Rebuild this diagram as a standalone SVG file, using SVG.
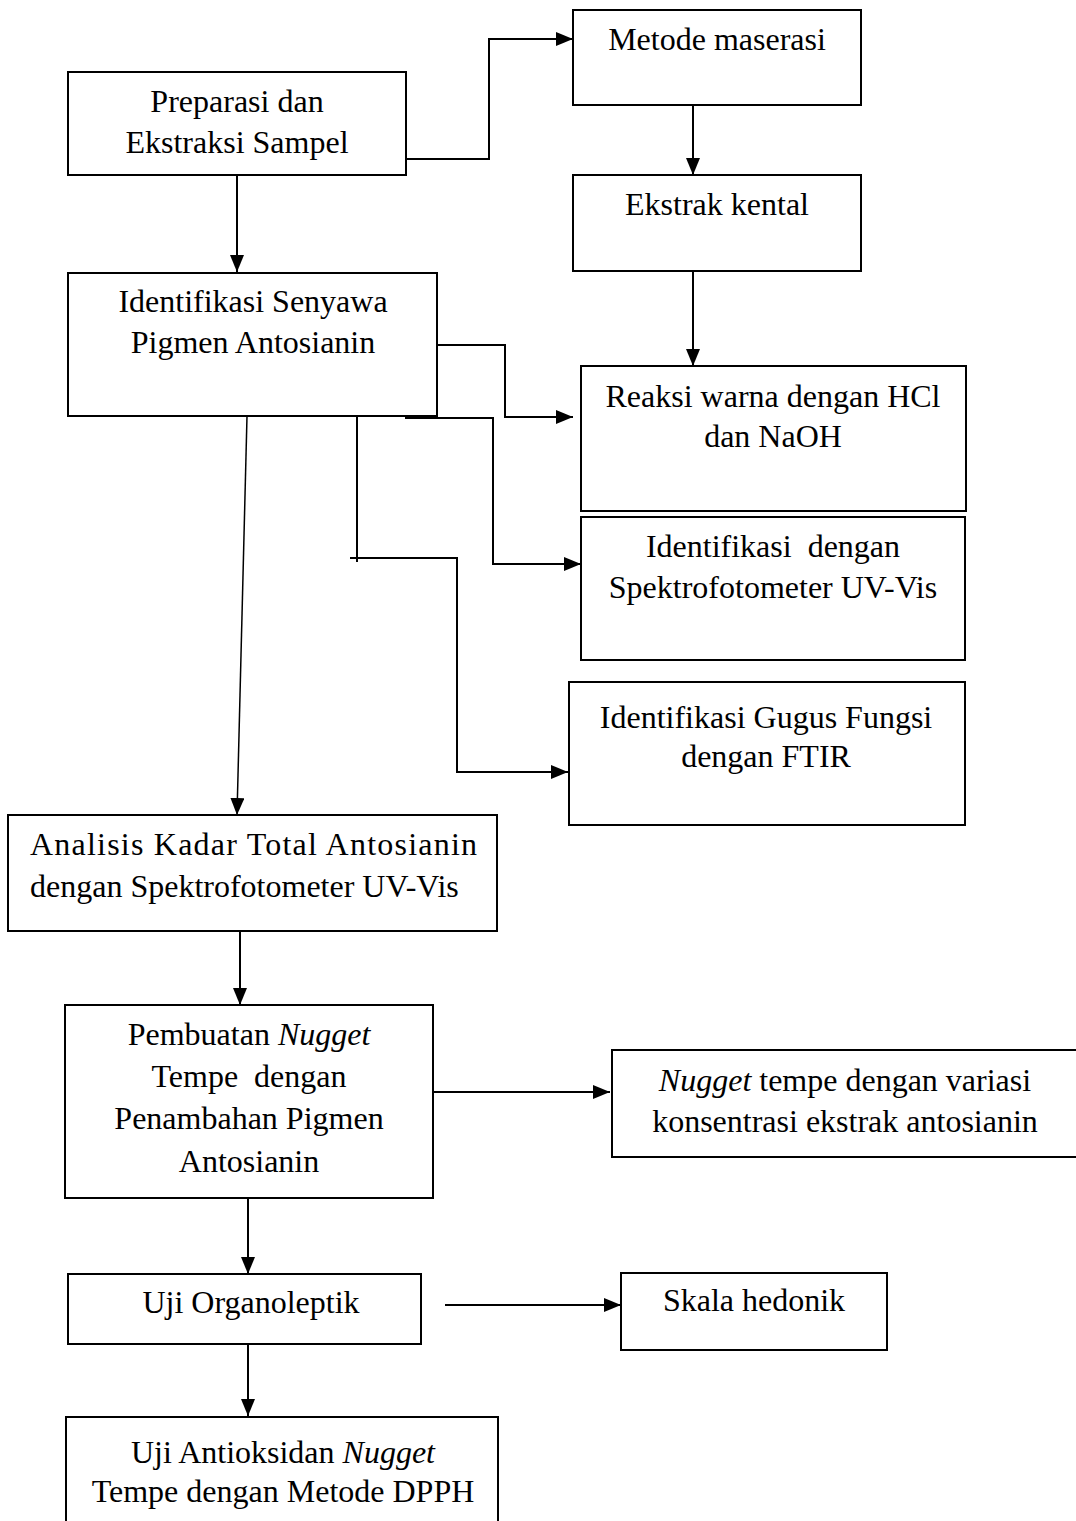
<svg xmlns="http://www.w3.org/2000/svg" width="1076" height="1521" viewBox="0 0 1076 1521">
<style>
  .box { fill: #fff; stroke: #000; stroke-width: 2; }
  .t { font-family: "Liberation Serif", "Times New Roman", serif; font-size: 32px; fill: #000; text-anchor: middle; white-space: pre; }
  .l { text-anchor: start; }
  .i { font-style: italic; }
  .c { fill: none; stroke: #000; stroke-width: 2; }
  .thin { stroke-width: 1.5; }
</style>
<defs>
  <marker id="arr" markerUnits="userSpaceOnUse" markerWidth="17" markerHeight="14" refX="17" refY="7" orient="auto">
    <path d="M0,0 L17,7 L0,14 z" fill="#000"/>
  </marker>
</defs>
<rect width="1076" height="1521" fill="#fff"/>

<g id="connectors">
  <path class="c" d="M406,159 H489 V39 H573" marker-end="url(#arr)"/>
  <path class="c" d="M693,105 V175" marker-end="url(#arr)"/>
  <path class="c" d="M237,175 V272" marker-end="url(#arr)"/>
  <path class="c" d="M693,271 V366" marker-end="url(#arr)"/>
  <path class="c" d="M437,345 H505 V417 H573" marker-end="url(#arr)"/>
  <path class="c" d="M405,418 H493 V564 H581" marker-end="url(#arr)"/>
  <path class="c" d="M357,416 V562"/>
  <path class="c" d="M350,558 H457 V772 H568" marker-end="url(#arr)"/>
  <path class="c thin" d="M247,416 L237,815" marker-end="url(#arr)"/>
  <path class="c" d="M240,931 V1005" marker-end="url(#arr)"/>
  <path class="c" d="M433,1092 H610" marker-end="url(#arr)"/>
  <path class="c" d="M248,1198 V1274" marker-end="url(#arr)"/>
  <path class="c" d="M445,1305 H621" marker-end="url(#arr)"/>
  <path class="c" d="M248,1344 V1416" marker-end="url(#arr)"/>
</g>

<g id="metode-maserasi">
  <rect class="box" x="573" y="10" width="288" height="95"/>
  <text class="t" x="717" y="50">Metode maserasi</text>
</g>
<g id="preparasi">
  <rect class="box" x="68" y="72" width="338" height="103"/>
  <text class="t" x="237" y="112">Preparasi dan</text>
  <text class="t" x="237" y="153">Ekstraksi Sampel</text>
</g>
<g id="ekstrak-kental">
  <rect class="box" x="573" y="175" width="288" height="96"/>
  <text class="t" x="717" y="215">Ekstrak kental</text>
</g>
<g id="identifikasi-senyawa">
  <rect class="box" x="68" y="273" width="369" height="143"/>
  <text class="t" x="253" y="312">Identifikasi Senyawa</text>
  <text class="t" x="253" y="353">Pigmen Antosianin</text>
</g>
<g id="reaksi-warna">
  <rect class="box" x="581" y="366" width="385" height="145"/>
  <text class="t" x="773" y="407">Reaksi warna dengan HCl</text>
  <text class="t" x="773" y="447">dan NaOH</text>
</g>
<g id="identifikasi-uvvis">
  <rect class="box" x="581" y="517" width="384" height="143"/>
  <text class="t" x="773" y="557">Identifikasi  dengan</text>
  <text class="t" x="773" y="598">Spektrofotometer UV-Vis</text>
</g>
<g id="identifikasi-ftir">
  <rect class="box" x="569" y="682" width="396" height="143"/>
  <text class="t" x="766" y="728">Identifikasi Gugus Fungsi</text>
  <text class="t" x="766" y="767">dengan FTIR</text>
</g>
<g id="analisis-kadar">
  <rect class="box" x="8" y="815" width="489" height="116"/>
  <text class="t l" x="30" y="855" textLength="447" lengthAdjust="spacing">Analisis Kadar Total Antosianin</text>
  <text class="t l" x="30" y="897">dengan Spektrofotometer UV-Vis</text>
</g>
<g id="pembuatan-nugget">
  <rect class="box" x="65" y="1005" width="368" height="193"/>
  <text class="t" x="249" y="1045">Pembuatan <tspan class="i">Nugget</tspan></text>
  <text class="t" x="249" y="1087">Tempe  dengan</text>
  <text class="t" x="249" y="1129">Penambahan Pigmen</text>
  <text class="t" x="249" y="1172">Antosianin</text>
</g>
<g id="nugget-variasi">
  <rect class="box" x="612" y="1050" width="470" height="107"/>
  <text class="t" x="845" y="1091"><tspan class="i">Nugget</tspan> tempe dengan variasi</text>
  <text class="t" x="845" y="1132">konsentrasi ekstrak antosianin</text>
</g>
<g id="uji-organoleptik">
  <rect class="box" x="68" y="1274" width="353" height="70"/>
  <text class="t" x="251" y="1313">Uji Organoleptik</text>
</g>
<g id="skala-hedonik">
  <rect class="box" x="621" y="1273" width="266" height="77"/>
  <text class="t" x="754" y="1311">Skala hedonik</text>
</g>
<g id="uji-antioksidan">
  <rect class="box" x="66" y="1417" width="432" height="120"/>
  <text class="t" x="283" y="1463">Uji Antioksidan <tspan class="i">Nugget</tspan></text>
  <text class="t" x="283" y="1502">Tempe dengan Metode DPPH</text>
</g>
</svg>
